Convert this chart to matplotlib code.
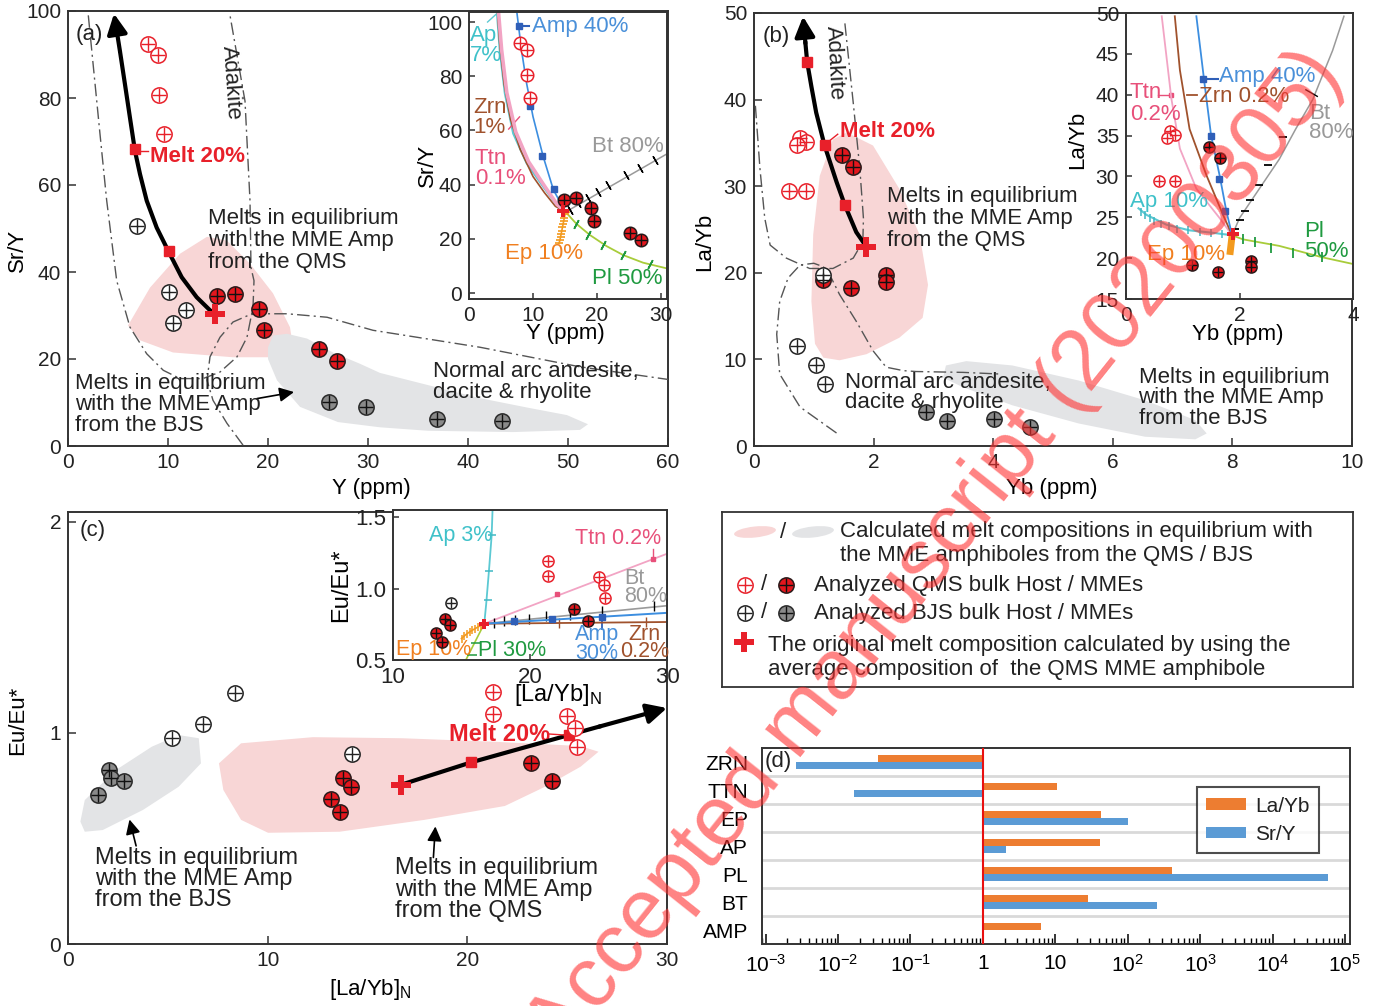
import matplotlib
matplotlib.use('Agg')
import matplotlib.pyplot as plt
from matplotlib.patches import Polygon, Ellipse
import numpy as np

plt.rcParams['font.family'] = ['Liberation Sans', 'DejaVu Sans']
plt.rcParams['mathtext.default'] = 'regular'
plt.rcParams['axes.linewidth'] = 1.4
plt.rcParams['axes.edgecolor'] = '#333333'
plt.rcParams['text.color'] = '#222222'

W, H = 1373, 1006
NARROW = ['Liberation Sans Narrow', 'Liberation Sans']
FS = 16
TFS = 15

RED = '#e8202a'
PINK_FILL = '#f8d6d6'
GRAY_FILL = '#e3e4e6'
DARK = '#333333'

# ---------------- panel (a): Y (ppm) vs Sr/Y ----------------
qms_host_a_x = [7.97, 9.03, 9.1, 9.6]
qms_host_a_y = [92.4, 89.8, 80.6, 71.8]
qms_mme_a_x = [14.87, 16.7, 19.13, 19.6, 25.1, 26.9]
qms_mme_a_y = [34.5, 35.0, 31.5, 26.7, 22.2, 19.5]
bjs_host_a_x = [6.87, 10.1, 11.8, 10.5]
bjs_host_a_y = [50.6, 35.3, 31.3, 28.3]
bjs_mme_a_x = [26.1, 29.8, 36.9, 43.4]
bjs_mme_a_y = [10.2, 8.9, 6.3, 5.8]
melt0_a = (14.7, 30.4)
traj_a_x = [14.7, 14.2, 12.87, 11.37, 10.1, 8.87, 7.87, 7.2, 6.7, 6.2, 5.7, 5.2]
traj_a_y = [30.4, 31.2, 34.2, 38.8, 44.5, 50.2, 56.4, 62.5, 67.8, 75.4, 83.1, 90.7]
traj_a_tip = (4.6, 99.4)
steps_a_x = [10.1, 6.7]
steps_a_y = [44.8, 68.3]
adk_a_x = [2.03, 3.2, 3.87, 4.87, 6.2, 7.87, 9.53, 11.2, 13.5, 15.2, 16.9, 17.9, 18.5, 18.6, 18.3, 18.2, 17.7, 16.2]
adk_a_y = [99, 71.7, 56.4, 38.0, 27.3, 21.2, 17.4, 15.5, 15.5, 17.0, 20.5, 25.0, 31.9, 38.0, 41, 56.4, 79.3, 99]
arc_a_x = [17.5, 15.9, 14.5, 13.9, 14.2, 15.2, 16.5, 18.2, 19.2, 21.9, 25.9, 30.5, 41.2, 51.2, 60]
arc_a_y = [0.2, 5.2, 10.5, 15.1, 20.5, 25.0, 28.5, 30.2, 30.4, 30.4, 29.6, 26.6, 22.7, 18.2, 15.3]
pink_a_x = [6.0, 8.2, 11.2, 13.9, 15.9, 18.2, 20.5, 22.2, 22.5, 21.9, 16.5, 10.5, 7.2]
pink_a_y = [27.7, 36.4, 44.2, 48.1, 47.2, 41.9, 35.1, 27.3, 22.7, 20.4, 20.4, 21.5, 24.3]
gray_a_x = [20.0, 20.5, 21.9, 23.9, 26.5, 29.2, 31.2, 36, 41.2, 46, 49.9, 52.0, 51.2, 44.5, 36, 31.2, 27, 23.2, 20.9, 20.0]
gray_a_y = [22.7, 25.4, 25.8, 24.7, 21.5, 18.9, 16.8, 14.0, 11.0, 8.8, 7.1, 5.0, 3.7, 3.2, 3.5, 4.3, 5.5, 9.0, 15.1, 20.0]

# inset (a) fractional crystallization vectors
amp_a_x = [15.1, 13.2, 11.6, 10.0, 9.0, 8.2, 7.5]
amp_a_y = [29.9, 38.0, 50.3, 65.1, 77.4, 89.7, 103.2]
amp_a_mk_x = [13.3, 11.4, 9.5, 7.8]
amp_a_mk_y = [38.3, 50.7, 69.0, 98.5]
ap_a_x = [15.1, 13.7, 11.6, 9.0, 6.9, 5.6, 4.8, 4.35]
ap_a_y = [29.9, 32.5, 39.2, 47.9, 58.9, 73.7, 89.7, 104]
ttn_a_x = [15.1, 13.8, 11.8, 9.3, 7.3, 5.9, 5.1, 4.6]
ttn_a_y = [29.9, 32.6, 39.5, 48.5, 59.5, 74, 89.7, 104]
zrn_a_x = [15.1, 13.5, 11.8, 10.0, 8.0, 6.5, 5.5, 4.8, 4.45]
zrn_a_y = [29.9, 32.0, 37.0, 43.0, 53, 64, 77, 92, 104]
bt_a_x = [15.1, 30.9]
bt_a_y = [29.9, 51.3]
bt_a_mk_x = [15.8, 17.1, 18.6, 20.1, 21.7, 24.6, 26.7, 29.1]
bt_a_mk_y = [30.6, 33.1, 34.9, 37.4, 39.9, 43.5, 46.0, 49.1]
pl_a_x = [15.1, 16.8, 18.9, 21.5, 24.1, 27.2, 30.9]
pl_a_y = [29.9, 25.5, 21.4, 17.3, 14.0, 11.2, 9.1]
pl_a_mk_x = [16.7, 18.6, 21.0, 24.1, 28.3]
pl_a_mk_y = [25.5, 21.4, 17.7, 14.0, 10.6]
ep_a_x = [15.1, 15.0, 14.9, 14.8, 14.7, 14.6, 14.5, 14.4, 14.3, 14.2, 14.05]
ep_a_y = [29.9, 29.0, 27.8, 26.6, 25.4, 24.2, 23.0, 21.8, 20.6, 19.4, 18.3]

# ---------------- panel (b): Yb (ppm) vs La/Yb ----------------
qms_host_b_x = [0.77, 0.87, 0.72, 0.59, 0.87]
qms_host_b_y = [35.6, 35.1, 34.7, 29.5, 29.5]
qms_mme_b_x = [1.47, 1.66, 1.16, 1.62, 2.2, 2.21]
qms_mme_b_y = [33.6, 32.2, 19.2, 18.3, 19.7, 18.9]
bjs_host_b_x = [1.15, 0.72, 1.03, 1.19]
bjs_host_b_y = [19.8, 11.6, 9.4, 7.2]
bjs_mme_b_x = [2.87, 3.22, 4.02, 4.61]
bjs_mme_b_y = [3.9, 2.9, 3.1, 2.2]
melt0_b = (1.88, 23.0)
traj_b_x = [1.88, 1.71, 1.52, 1.38, 1.18, 1.04, 0.96, 0.89, 0.86]
traj_b_y = [23.0, 24.7, 27.8, 30.5, 34.7, 38.5, 41.5, 44.3, 46.5]
traj_b_tip = (0.82, 49.6)
steps_b_x = [1.52, 1.18, 0.89]
steps_b_y = [27.8, 34.7, 44.3]
adk_b_x = [1.52, 1.66, 1.77, 1.83, 1.82, 1.66, 1.32, 0.93, 0.54, 0.27, 0.18, 0.10, 0.04, 0.02]
adk_b_y = [48.8, 39.6, 32.0, 26.3, 23.6, 21.7, 20.5, 20.5, 21.7, 23.2, 26.3, 32.0, 37.7, 39.6]
arc_b_x = [1.38, 0.77, 0.43, 0.38, 0.43, 0.57, 0.77, 1.0, 1.16, 1.30, 1.43, 1.71, 1.99, 2.21, 2.5, 2.71, 3.5, 4.15]
arc_b_y = [1.5, 4.5, 8.3, 12.9, 16.7, 19.4, 20.9, 21.1, 20.7, 19.3, 17.5, 14.4, 11.0, 9.1, 8.7, 8.6, 8.5, 8.3]
pink_b_x = [1.02, 0.96, 0.99, 1.10, 1.32, 1.55, 1.99, 2.43, 2.77, 2.91, 2.82, 2.43, 1.88, 1.43, 1.16]
pink_b_y = [11.8, 16.7, 24.4, 31.2, 35.4, 36.2, 34.7, 29.7, 24.4, 18.6, 14.8, 12.5, 10.6, 9.9, 10.2]
gray_b_x = [3.21, 3.55, 4.32, 5.43, 6.54, 7.38, 7.57, 7.38, 6.54, 5.43, 4.32, 3.49, 3.16]
gray_b_y = [9.3, 9.8, 9.3, 7.56, 5.27, 2.98, 1.45, 0.77, 1.07, 2.6, 4.7, 6.8, 7.9]

# inset (b)
amp_b_x = [1.87, 1.77, 1.65, 1.50, 1.39, 1.24]
amp_b_y = [22.8, 25.7, 30.1, 35.0, 41.0, 49.6]
amp_b_mk_x = [1.75, 1.63, 1.49, 1.35]
amp_b_mk_y = [25.8, 29.7, 34.9, 41.9]
zrn_b_x = [1.87, 1.71, 1.42, 1.12, 0.95, 0.86]
zrn_b_y = [22.8, 25.3, 30.1, 35.8, 43.0, 49.6]
ttn_b_x = [1.87, 1.65, 1.24, 0.95, 0.80, 0.63]
ttn_b_y = [22.8, 24.9, 28.5, 33.4, 39.5, 49.6]
ap_b_x = [1.87, 1.53, 1.12, 0.71, 0.36, 0.22]
ap_b_y = [22.8, 23.1, 23.4, 24.1, 25.3, 26.1]
ap_b_mk_x = [1.7, 1.5, 1.3, 1.1, 0.9, 0.75, 0.62, 0.5, 0.42, 0.34, 0.27]
ap_b_mk_y = [22.9, 23.1, 23.2, 23.4, 23.6, 23.9, 24.2, 24.6, 24.9, 25.3, 25.7]
bt_b_x = [1.87, 2.0, 2.35, 2.70, 2.99, 3.29, 3.64, 3.84]
bt_b_y = [22.8, 24.9, 28.5, 32.1, 35.8, 39.4, 45.4, 49.6]
bt_b_mk_x = [1.92, 2.0, 2.10, 2.19, 2.35, 2.51, 2.77]
bt_b_mk_y = [23.6, 24.7, 25.8, 27.1, 29.0, 31.4, 34.8]
pl_b_x = [1.87, 2.06, 2.70, 3.46, 3.99]
pl_b_y = [22.8, 22.3, 21.5, 20.1, 19.3]
pl_b_mk_x = [2.06, 2.27, 2.56, 2.95, 3.46]
pl_b_mk_y = [22.3, 22.0, 21.2, 20.6, 20.1]
ep_b_x = [1.87, 1.83]
ep_b_y = [22.8, 20.4]

# ---------------- panel (c): [La/Yb]N vs Eu/Eu* ----------------
qms_host_c_x = [21.3, 21.3, 25.0, 25.4, 25.5]
qms_host_c_y = [1.195, 1.088, 1.08, 1.025, 0.935]
qms_mme_c_x = [13.78, 14.16, 13.15, 13.6, 23.18, 24.23]
qms_mme_c_y = [0.788, 0.743, 0.687, 0.627, 0.859, 0.772]
bjs_host_c_x = [5.23, 6.75, 8.34, 14.2]
bjs_host_c_y = [0.978, 1.044, 1.19, 0.899]
bjs_mme_c_x = [2.05, 2.14, 2.79, 1.51]
bjs_mme_c_y = [0.825, 0.785, 0.77, 0.706]
melt0_c = (16.66, 0.754)
traj_c_x = [16.66, 20.2, 25.08, 26.6]
traj_c_y = [0.754, 0.861, 0.99, 1.03]
traj_c_tip = (30.0, 1.118)
steps_c_x = [20.2, 25.08]
steps_c_y = [0.861, 0.99]
pink_c_x = [7.56, 8.67, 12.26, 16.73, 21.2, 25.67, 26.57, 25.67, 23.89, 21.88, 17.84, 13.6, 10.02, 8.67, 7.78]
pink_c_y = [0.856, 0.951, 0.980, 0.975, 0.959, 0.938, 0.911, 0.840, 0.745, 0.654, 0.588, 0.532, 0.527, 0.588, 0.730]
gray_c_x = [0.62, 0.84, 2.41, 4.2, 5.54, 6.55, 6.66, 5.54, 3.75, 1.74, 0.84]
gray_c_y = [0.58, 0.682, 0.825, 0.935, 0.99, 0.975, 0.856, 0.745, 0.635, 0.54, 0.532]

# inset (c)
ap_c_x = [16.66, 16.8, 17.0, 17.2, 17.27]
ap_c_y = [0.754, 0.89, 1.12, 1.37, 1.56]
ap_c_mk_x = [16.97, 17.0, 17.2]
ap_c_mk_y = [0.92, 1.12, 1.375]
ttn_c_x = [16.66, 29.9]
ttn_c_y = [0.754, 1.24]
ttn_c_mk_x = [22.0, 29.0]
ttn_c_mk_y = [0.96, 1.21]
bt_c_x = [16.66, 30.0]
bt_c_y = [0.754, 0.88]
bt_c_mk_x = [17.37, 18.08, 18.9, 19.96, 21.15, 22.92, 25.28, 29.07]
bt_c_mk_y = [0.761, 0.772, 0.782, 0.789, 0.807, 0.818, 0.846, 0.88]
amp_c_x = [16.66, 30.0]
amp_c_y = [0.754, 0.83]
amp_c_mk_x = [18.86, 21.63, 25.24]
amp_c_mk_y = [0.773, 0.784, 0.804]
zrn_c_x = [16.66, 30.0]
zrn_c_y = [0.754, 0.766]
zrn_c_mk_x = [22.1, 28.5]
zrn_c_mk_y = [0.759, 0.764]
pl_c_x = [16.66, 15.35]
pl_c_y = [0.754, 0.506]
pl_c_mk_x = [16.06, 15.78]
pl_c_mk_y = [0.616, 0.535]
ep_c_x = [16.66, 16.4, 16.2, 16.0, 15.8, 15.6, 15.4, 15.2, 15.0]
ep_c_y = [0.754, 0.741, 0.731, 0.72, 0.709, 0.697, 0.684, 0.668, 0.65]

# ---------------- panel (d): partition ratios ----------------
minerals = ['ZRN', 'TTN', 'EP', 'AP', 'PL', 'BT', 'AMP']
la_yb_ratio = [0.036, 10.6, 43, 42, 405, 28, 6.4]
sr_y_ratio = [0.0026, 0.0164, 101, 2.1, 57700, 257, 1.05]


def frac(l, t, r, b):
    return [l / W, 1 - b / H, (r - l) / W, (b - t) / H]


def oplus(ax, x, y, face, edge, cross, ms=11, z=6):
    ax.plot(x, y, 'o', ms=ms, mfc=face, mec=edge, mew=1.1, ls='none', zorder=z)
    ax.plot(x, y, '+', ms=ms * 0.92, mec=cross, mew=1.0, ls='none', zorder=z + 0.1)


def style(ax, narrow=False):
    ax.tick_params(direction='in', length=6, width=1.1, labelsize=TFS, pad=5,
                   colors=DARK, labelcolor='#222222')
    if narrow:
        ax.tick_params(labelfontfamily=NARROW)


def dashdot(ax, x, y):
    ax.plot(x, y, color='#555555', lw=1.0, ls=(0, (9, 3, 1.5, 3)), zorder=3)


fig = plt.figure(figsize=(W / 100, H / 100), dpi=100)

# ======== (a) ========
ax = fig.add_axes(frac(68, 11, 668, 446))
ax.set_xlim(0, 60)
ax.set_ylim(0, 99.7)
ax.set_xticks(range(0, 61, 10))
ax.set_yticks(range(0, 101, 20))
style(ax)
ax.add_patch(Polygon(np.column_stack([pink_a_x, pink_a_y]), closed=True, fc=PINK_FILL, ec='none', zorder=1))
ax.add_patch(Polygon(np.column_stack([gray_a_x, gray_a_y]), closed=True, fc=GRAY_FILL, ec='none', zorder=1.2))
dashdot(ax, adk_a_x, adk_a_y)
dashdot(ax, arc_a_x, arc_a_y)
ax.plot(traj_a_x, traj_a_y, color='k', lw=3, zorder=4, solid_capstyle='butt')
ax.annotate('', xy=traj_a_tip, xytext=(traj_a_x[-1], traj_a_y[-1]),
            arrowprops=dict(arrowstyle='-|>', color='k', lw=3, mutation_scale=30, shrinkA=0, shrinkB=0), zorder=4)
ax.plot(steps_a_x, steps_a_y, 's', color=RED, ms=7, zorder=5)
oplus(ax, qms_host_a_x, qms_host_a_y, 'white', RED, RED)
oplus(ax, qms_mme_a_x, qms_mme_a_y, '#e3161d', '#2a1a1a', '#111111')
oplus(ax, bjs_host_a_x, bjs_host_a_y, 'white', '#222222', '#222222')
oplus(ax, bjs_mme_a_x, bjs_mme_a_y, '#8a8a8a', '#2a2a2a', '#111111')
ax.plot(*melt0_a, 'P', color=RED, ms=15, mew=0, zorder=7)
ax.text(0.8, 94.6, '(a)', fontsize=FS, va='center')
ax.text(16.3, 83.5, 'Adakite', fontsize=FS, rotation=-86, ha='center', va='center')
ax.plot([6.8, 8.0], [67.8, 67.8], color=RED, lw=1, zorder=5)
ax.text(8.2, 66.6, 'Melt 20%', color=RED, fontsize=FS, fontweight='bold', va='center')
ax.text(14.0, 54.6, 'Melts in equilibrium\nwith the MME Amp\nfrom the QMS', fontsize=FS,
        va='top', linespacing=1.05)
ax.text(36.5, 19.6, 'Normal arc andesite,\ndacite & rhyolite', fontsize=FS, va='top', linespacing=1.0)
ax.text(0.7, 16.8, 'Melts in equilibrium\nwith the MME Amp\nfrom the BJS', fontsize=FS, va='top',
        linespacing=1.0, zorder=8)
ax.annotate('', xy=(22.6, 12.4), xytext=(18.9, 10.9),
            arrowprops=dict(arrowstyle='-|>', color='k', lw=1.2, mutation_scale=22, shrinkA=0, shrinkB=0))
ax.set_xlabel('Y (ppm)', fontsize=FS)
ax.set_ylabel('Sr/Y', fontsize=FS)
ax.xaxis.set_label_coords(0.505, -0.073)
ax.yaxis.set_label_coords(-0.067, 0.45)

ia = fig.add_axes(frac(469, 12, 667, 299))
ia.set_facecolor('white')
ia.set_xlim(0, 30.94)
ia.set_ylim(-2.2, 103.7)
ia.set_xticks([0, 10, 20, 30])
ia.set_yticks(range(0, 101, 20))
style(ia)
ia.tick_params(length=4)
ia.plot(bt_a_x, bt_a_y, color='#9a9a9a', lw=1.1, zorder=2)
ia.plot(bt_a_mk_x, bt_a_mk_y, ls='none', marker=(2, 2, 30), ms=7, mec='k', mew=1, zorder=2.5)
ia.plot(pl_a_x, pl_a_y, color='#a8cc3a', lw=1.3, zorder=2)
ia.plot(pl_a_mk_x, pl_a_mk_y, ls='none', marker=(2, 2, -28), ms=7, mec='#1f9a40', mew=1.2, zorder=2.5)
ia.plot(ap_a_x, ap_a_y, color='#5cc9d3', lw=1.5, zorder=2)
ia.plot(ttn_a_x, ttn_a_y, color='#f2a4c4', lw=2.6, zorder=2.2)
ia.plot(zrn_a_x, zrn_a_y, color='#a0522d', lw=1.2, zorder=2.1)
ia.plot(amp_a_x, amp_a_y, color='#3c8ee0', lw=1.2, zorder=2.3)
ia.plot(amp_a_mk_x, amp_a_mk_y, 's', color='#2f5fb8', ms=4, zorder=2.4)
ia.plot(ep_a_x, ep_a_y, color='#f39a1e', lw=1.2, marker='_', ms=6, mew=1.2, zorder=2.4)
ia.plot([7.9, 9.3], [98.5, 98.5], color='#2f5fb8', lw=1.5)
ia.text(9.8, 98.5, 'Amp 40%', color='#4a90d9', fontsize=FS, va='center')
ia.plot([2.9, 4.3], [100, 103], color='#5cc9d3', lw=1)
ia.text(0.1, 99.0, 'Ap\n7%', color='#3fc1c9', fontsize=FS, va='top', linespacing=0.95)
ia.text(0.6, 72.5, 'Zrn\n1%', color='#a0522d', fontsize=FS, va='top', linespacing=0.95)
ia.plot([6.2, 7.9], [60.5, 65.0], color='#e8507a', lw=1)
ia.text(0.9, 53.7, 'Ttn\n0.1%', color='#e8507a', fontsize=FS, va='top', linespacing=0.95)
ia.text(19.2, 54.0, 'Bt 80%', color='#999999', fontsize=FS, va='center')
ia.text(19.2, 5.5, 'Pl 50%', color='#1f9a40', fontsize=FS, va='center')
ia.text(5.6, 14.5, 'Ep 10%', color='#f07f1f', fontsize=FS, va='center')
oplus(ia, qms_host_a_x, qms_host_a_y, 'white', RED, RED, ms=9)
oplus(ia, qms_mme_a_x, qms_mme_a_y, '#e3161d', '#2a1a1a', '#111111', ms=9)
ia.plot(*melt0_a, 'P', color=RED, ms=9, mew=0, zorder=7)
ia.set_xlabel('Y (ppm)', fontsize=FS)
ia.set_ylabel('Sr/Y', fontsize=FS)
ia.xaxis.set_label_coords(0.485, -0.084)
ia.yaxis.set_label_coords(-0.157, 0.467)

# ======== (b) ========
bx = fig.add_axes(frac(754, 13, 1352, 446))
bx.set_xlim(0, 9.97)
bx.set_ylim(0, 49.6)
bx.set_xticks(range(0, 11, 2))
bx.set_yticks(range(0, 51, 10))
style(bx)
bx.add_patch(Polygon(np.column_stack([pink_b_x, pink_b_y]), closed=True, fc=PINK_FILL, ec='none', zorder=1))
bx.add_patch(Polygon(np.column_stack([gray_b_x, gray_b_y]), closed=True, fc=GRAY_FILL, ec='none', zorder=1))
dashdot(bx, adk_b_x, adk_b_y)
dashdot(bx, arc_b_x, arc_b_y)
bx.plot(traj_b_x, traj_b_y, color='k', lw=3, zorder=4)
bx.annotate('', xy=traj_b_tip, xytext=(traj_b_x[-1], traj_b_y[-1]),
            arrowprops=dict(arrowstyle='-|>', color='k', lw=3, mutation_scale=30, shrinkA=0, shrinkB=0), zorder=4)
bx.plot(steps_b_x, steps_b_y, 's', color=RED, ms=7, zorder=5)
oplus(bx, qms_host_b_x, qms_host_b_y, 'white', RED, RED)
oplus(bx, qms_mme_b_x, qms_mme_b_y, '#e3161d', '#2a1a1a', '#111111')
oplus(bx, bjs_host_b_x, bjs_host_b_y, 'white', '#222222', '#222222')
oplus(bx, bjs_mme_b_x, bjs_mme_b_y, '#8a8a8a', '#2a2a2a', '#111111')
bx.plot(*melt0_b, 'P', color=RED, ms=15, mew=0, zorder=7)
bx.text(0.15, 47.3, '(b)', fontsize=FS, va='center')
bx.text(1.35, 44.2, 'Adakite', fontsize=FS, rotation=-87, ha='center', va='center')
bx.plot([1.2, 1.4], [34.9, 36.0], color=RED, lw=1, zorder=5)
bx.text(1.43, 36.3, 'Melt 20%', color=RED, fontsize=FS, fontweight='bold', va='center')
bx.text(2.23, 30.0, 'Melts in equilibrium\nwith the MME Amp\nfrom the QMS', fontsize=FS, va='top',
        linespacing=1.05)
bx.text(1.53, 8.6, 'Normal arc andesite,\ndacite & rhyolite', fontsize=FS, va='top', linespacing=0.95)
bx.text(6.43, 9.1, 'Melts in equilibrium\nwith the MME Amp\nfrom the BJS', fontsize=FS, va='top',
        linespacing=0.95)
bx.set_xlabel('Yb (ppm)', fontsize=FS)
bx.set_ylabel('La/Yb', fontsize=FS)
bx.xaxis.set_label_coords(0.498, -0.074)
bx.yaxis.set_label_coords(-0.065, 0.471)

ib = fig.add_axes(frac(1126, 13, 1353, 299))
ib.set_facecolor('white')
ib.set_xlim(0, 3.98)
ib.set_ylim(15, 49.5)
ib.set_xticks([0, 2, 4])
ib.set_yticks(range(15, 51, 5))
style(ib)
ib.tick_params(length=4)
ib.plot(bt_b_x, bt_b_y, color='#9a9a9a', lw=1.1, zorder=2)
ib.plot(bt_b_mk_x, bt_b_mk_y, ls='none', marker='_', ms=6, mec='k', mew=1.3, zorder=2.5)
ib.plot(pl_b_x, pl_b_y, color='#a8cc3a', lw=1.3, zorder=2)
ib.plot(pl_b_mk_x, pl_b_mk_y, ls='none', marker='|', ms=7, mec='#1f9a40', mew=1.3, zorder=2.5)
ib.plot(ap_b_x, ap_b_y, color='#5cc9d3', lw=1.5, zorder=2)
ib.plot(ap_b_mk_x, ap_b_mk_y, ls='none', marker='|', ms=6, mec='#3fb8c4', mew=1.1, zorder=2.5)
ib.plot(ttn_b_x, ttn_b_y, color='#f2a4c4', lw=1.3, zorder=2.1)
ib.plot(zrn_b_x, zrn_b_y, color='#a0522d', lw=1.3, zorder=2.2)
ib.plot(amp_b_x, amp_b_y, color='#3c8ee0', lw=1.3, zorder=2.3)
ib.plot(amp_b_mk_x, amp_b_mk_y, 's', color='#2f5fb8', ms=5, zorder=2.4)
ib.plot(ep_b_x, ep_b_y, color='#f39a1e', lw=5, zorder=2.4, solid_capstyle='butt')
ib.plot(*melt0_b, 'P', color=RED, ms=8, mew=0, zorder=7)
oplus(ib, qms_host_b_x, qms_host_b_y, 'white', RED, RED, ms=8)
oplus(ib, qms_mme_b_x, qms_mme_b_y, '#e3161d', '#2a1a1a', '#111111', ms=8)
ib.plot([0.56, 0.8], [40.0, 40.0], color='#e8507a', lw=1)
ib.plot([0.80], [40.0], 's', color='#e8507a', ms=3)
ib.text(0.07, 40.3, 'Ttn', color='#e8507a', fontsize=FS, va='center')
ib.text(0.07, 37.6, '0.2%', color='#e8507a', fontsize=FS, va='center')
ib.plot([1.08, 1.25], [40.0, 40.0], color='#a0522d', lw=1.3)
ib.text(1.28, 39.8, 'Zrn 0.2%', color='#a0522d', fontsize=FS, va='center')
ib.plot([1.35, 1.62], [41.9, 41.9], color='#2f5fb8', lw=1.5)
ib.text(1.63, 42.2, 'Amp 40%', color='#4a90d9', fontsize=FS, va='center')
ib.plot([3.17, 3.37], [40.6, 39.8], color='k', lw=1)
ib.text(3.22, 39.0, 'Bt\n80%', color='#999999', fontsize=FS, va='top', linespacing=0.9)
ib.text(3.14, 24.5, 'Pl\n50%', color='#1f9a40', fontsize=FS, va='top', linespacing=0.9)
ib.text(0.07, 26.9, 'Ap 10%', color='#3fc1c9', fontsize=FS, va='center')
ib.text(0.37, 20.4, 'Ep 10%', color='#f07f1f', fontsize=FS, va='center')
ib.set_xlabel('Yb (ppm)', fontsize=FS)
ib.set_ylabel('La/Yb', fontsize=FS)
ib.xaxis.set_label_coords(0.493, -0.087)
ib.yaxis.set_label_coords(-0.167, 0.556)

# ======== (c) ========
cx = fig.add_axes(frac(68, 512, 667, 944))
cx.set_xlim(0, 30)
cx.set_ylim(0, 2.047)
cx.set_xticks([0, 10, 20, 30])
cx.set_yticks([0, 1, 2])
style(cx, narrow=True)
cx.add_patch(Polygon(np.column_stack([pink_c_x, pink_c_y]), closed=True, fc=PINK_FILL, ec='none', zorder=1))
cx.add_patch(Polygon(np.column_stack([gray_c_x, gray_c_y]), closed=True, fc=GRAY_FILL, ec='none', zorder=1))
cx.plot(traj_c_x, traj_c_y, color='k', lw=3, zorder=4)
cx.annotate('', xy=traj_c_tip, xytext=(traj_c_x[-1], traj_c_y[-1]),
            arrowprops=dict(arrowstyle='-|>', color='k', lw=3, mutation_scale=30, shrinkA=0, shrinkB=0), zorder=4)
cx.plot(steps_c_x, steps_c_y, 's', color=RED, ms=7, zorder=5)
oplus(cx, qms_host_c_x, qms_host_c_y, 'white', RED, RED)
oplus(cx, qms_mme_c_x, qms_mme_c_y, '#e3161d', '#2a1a1a', '#111111')
oplus(cx, bjs_host_c_x, bjs_host_c_y, 'white', '#222222', '#222222')
oplus(cx, bjs_mme_c_x, bjs_mme_c_y, '#8a8a8a', '#2a2a2a', '#111111')
cx.plot(*melt0_c, 'P', color=RED, ms=15, mew=0, zorder=7)
cx.text(0.6, 1.96, '(c)', fontsize=FS, va='center', family=NARROW)
cx.text(19.1, 0.995, 'Melt 20%', color=RED, fontsize=FS + 1, fontweight='bold', va='center', family=NARROW)
cx.plot([24.1, 24.9], [0.995, 0.99], color=RED, lw=1, zorder=5)
cx.text(1.35, 0.46, 'Melts in equilibrium\nwith the MME Amp\nfrom the BJS', fontsize=FS + 1, va='top',
        linespacing=0.95, family=NARROW)
cx.text(16.4, 0.41, 'Melts in equilibrium\nwith the MME Amp\nfrom the QMS', fontsize=FS + 1, va='top',
        linespacing=0.95, family=NARROW)
cx.annotate('', xy=(3.08, 0.59), xytext=(3.41, 0.465),
            arrowprops=dict(arrowstyle='-|>', color='k', lw=1.2, mutation_scale=22, shrinkA=0, shrinkB=0))
cx.annotate('', xy=(18.4, 0.557), xytext=(18.3, 0.41),
            arrowprops=dict(arrowstyle='-|>', color='k', lw=1.2, mutation_scale=22, shrinkA=0, shrinkB=0))
cx.set_xlabel('[La/Yb]$_N$', fontsize=FS, family=NARROW)
cx.set_ylabel('Eu/Eu*', fontsize=FS, family=NARROW)
cx.xaxis.set_label_coords(0.504, -0.076)
cx.yaxis.set_label_coords(-0.067, 0.518)

ic = fig.add_axes(frac(393, 510, 667, 660))
ic.set_facecolor('white')
ic.set_xlim(10, 30)
ic.set_ylim(0.5, 1.55)
ic.set_xticks([10, 20, 30])
ic.set_yticks([0.5, 1.0, 1.5])
ic.set_yticklabels(['0.5', '1.0', '1.5'])
style(ic, narrow=True)
ic.tick_params(length=4, labelsize=TFS + 1)
ic.plot(ap_c_x, ap_c_y, color='#5cc9d3', lw=1.3, zorder=2)
ic.plot(ap_c_mk_x, ap_c_mk_y, ls='none', marker='_', ms=6, mec='#3fb8c4', mew=1.1)
ic.plot(ttn_c_x, ttn_c_y, color='#f2a4c4', lw=1.3, zorder=2)
ic.plot(ttn_c_mk_x, ttn_c_mk_y, 's', color='#e8507a', ms=3)
ic.plot([29.0, 29.0], [1.21, 1.28], color='#e8507a', lw=1)
ic.plot(bt_c_x, bt_c_y, color='#9a9a9a', lw=1.2, zorder=2)
ic.plot(bt_c_mk_x, bt_c_mk_y, ls='none', marker='|', ms=7, mec='k', mew=1)
ic.plot(zrn_c_x, zrn_c_y, color='#a0522d', lw=1.3, zorder=2.1)
ic.plot(zrn_c_mk_x, zrn_c_mk_y, ls='none', marker='|', ms=7, mec='#a0522d', mew=1)
ic.plot(amp_c_x, amp_c_y, color='#3c8ee0', lw=1.4, zorder=2.2)
ic.plot(amp_c_mk_x, amp_c_mk_y, 's', color='#2f5fb8', ms=4, zorder=2.3)
ic.plot([25.24, 25.24], [0.804, 0.72], color='#2f5fb8', lw=1.3)
ic.plot(pl_c_x, pl_c_y, color='#a8cc3a', lw=1.2, zorder=2)
ic.plot(pl_c_mk_x, pl_c_mk_y, ls='none', marker='_', ms=7, mec='#1f9a40', mew=1.1)
ic.plot(ep_c_x, ep_c_y, color='#f39a1e', lw=1.2, marker='|', ms=6, mew=1.1, zorder=2.3)
oplus(ic, qms_host_c_x, qms_host_c_y, 'white', RED, RED, ms=8)
oplus(ic, qms_mme_c_x, qms_mme_c_y, '#e3161d', '#2a1a1a', '#111111', ms=8)
oplus(ic, bjs_host_c_x, bjs_host_c_y, 'white', '#222222', '#222222', ms=8)
ic.plot(*melt0_c, 'P', color=RED, ms=7, mew=0, zorder=7)
NFS = 15.5
ic.text(12.6, 1.375, 'Ap 3%', color='#3fc1c9', fontsize=NFS, va='center', family=NARROW)
ic.text(23.3, 1.35, 'Ttn 0.2%', color='#e8507a', fontsize=NFS, va='center', family=NARROW)
ic.text(26.9, 1.145, 'Bt\n80%', color='#999999', fontsize=NFS, va='top', linespacing=0.85, family=NARROW)
ic.text(23.3, 0.752, 'Amp\n30%', color='#4a90d9', fontsize=NFS, va='top', linespacing=0.85, family=NARROW)
ic.text(27.2, 0.752, 'Zrn', color='#a0522d', fontsize=NFS, va='top', family=NARROW)
ic.text(26.6, 0.63, '0.2%', color='#a0522d', fontsize=NFS, va='top', family=NARROW)
ic.text(10.2, 0.575, 'Ep 10%', color='#f07f1f', fontsize=NFS, va='center', family=NARROW)
ic.text(16.2, 0.565, 'Pl 30%', color='#1f9a40', fontsize=NFS, va='center', family=NARROW)
ic.set_xlabel('[La/Yb]$_N$', fontsize=FS + 1, family=NARROW)
ic.set_ylabel('Eu/Eu*', fontsize=FS + 1, family=NARROW)
ic.xaxis.set_label_coords(0.6, -0.147)
ic.yaxis.set_label_coords(-0.15, 0.5)

# ======== legend box ========
lg = fig.add_axes(frac(722, 512, 1353, 687))
lg.set_xlim(0, 631)
lg.set_ylim(175, 0)
lg.set_xticks([])
lg.set_yticks([])
for s in lg.spines.values():
    s.set_linewidth(1.3)
lg.add_patch(Ellipse((33, 20), 42, 11, angle=-6, fc=PINK_FILL, ec='none'))
lg.text(61, 20, '/', fontsize=FS, ha='center', va='center')
lg.add_patch(Ellipse((91, 20), 42, 11, angle=-6, fc=GRAY_FILL, ec='none'))
lg.text(118, 20, 'Calculated melt compositions in equilibrium with', fontsize=FS, va='center')
lg.text(118, 44, 'the MME amphiboles from the QMS / BJS', fontsize=FS, va='center')
oplus(lg, [23], [73], 'white', RED, RED, ms=11)
lg.text(42, 73, '/', fontsize=FS, ha='center', va='center')
oplus(lg, [64], [73], '#e3161d', '#2a1a1a', '#111111', ms=11)
lg.text(92, 73, 'Analyzed QMS bulk Host / MMEs', fontsize=FS, va='center')
oplus(lg, [23], [101], 'white', '#222222', '#222222', ms=11)
lg.text(42, 101, '/', fontsize=FS, ha='center', va='center')
oplus(lg, [64], [101], '#8a8a8a', '#2a2a2a', '#111111', ms=11)
lg.text(92, 101, 'Analyzed BJS bulk Host / MMEs', fontsize=FS, va='center')
lg.plot([22], [130], 'P', color=RED, ms=14, mew=0)
lg.text(46, 134, 'The original melt composition calculated by using the', fontsize=FS, va='center')
lg.text(46, 157, 'average composition of  the QMS MME amphibole', fontsize=FS, va='center')

# ======== (d) ========
dx = fig.add_axes(frac(762, 748, 1350, 944))
pos = np.arange(len(minerals))[::-1]
dx.set_xscale('log')
dx.set_xlim(10 ** -3.05, 10 ** 5.07)
dx.set_ylim(-0.5, 6.5)
for g in np.arange(0.5, 6.0, 1.0):
    dx.axhline(g, color='#d9d9d9', lw=2, zorder=0)
dx.barh(pos + 0.12, np.array(la_yb_ratio) - 1, left=1, height=0.24, color='#ed7d31', label='La/Yb', zorder=2)
dx.barh(pos - 0.12, np.array(sr_y_ratio) - 1, left=1, height=0.24, color='#5b9bd5', label='Sr/Y', zorder=2)
dx.axvline(1, color='#e81010', lw=1.5, zorder=3)
dx.set_yticks(pos)
dx.set_yticklabels(minerals)
dx.set_xticks([1e-3, 1e-2, 1e-1, 1, 10, 1e2, 1e3, 1e4, 1e5])
dx.set_xticklabels(['$10^{-3}$', '$10^{-2}$', '$10^{-1}$', '1', '10', '$10^{2}$', '$10^{3}$', '$10^{4}$', '$10^{5}$'])
dx.tick_params(axis='x', which='major', direction='in', length=7, width=1.1, labelsize=TFS, pad=7)
dx.tick_params(axis='x', which='minor', direction='in', length=4, width=1.0)
dx.tick_params(axis='y', length=0, labelsize=TFS, pad=10)
dx.text(0.005, 0.93, '(d)', transform=dx.transAxes, fontsize=FS, va='center', zorder=5)
leg = dx.legend(loc='upper left', bbox_to_anchor=(0.74, 0.80), borderaxespad=0, fontsize=15,
                frameon=True, fancybox=False, edgecolor='#222222', handlelength=1.9, handleheight=0.5,
                borderpad=0.45, labelspacing=0.45, handletextpad=0.45)
leg.get_frame().set_linewidth(1.5)

# watermark
fig.text(0.681, 0.45, 'Accepted manuscript (20200305)', rotation=51.5, rotation_mode='anchor',
         fontsize=61.5, color='#ff3030', alpha=0.6, ha='center', va='center', zorder=100)

fig.savefig('out.png', dpi=100)
